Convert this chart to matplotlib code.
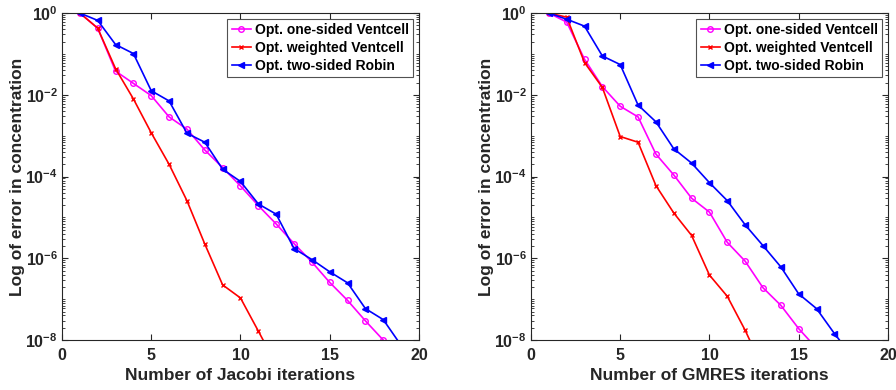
import numpy as np
import matplotlib
matplotlib.use('Agg')
import matplotlib.pyplot as plt
from matplotlib.ticker import LogLocator, NullFormatter, FixedLocator

plt.rcParams['font.family'] = ['Liberation Sans', 'DejaVu Sans']
plt.rcParams['font.weight'] = 'bold'

# log10 of error
jac_iters_one = np.arange(1, 19)
jac_one = [0, -0.37, -1.42, -1.72, -2.02, -2.54, -2.84, -3.35, -3.78, -4.23,
           -4.71, -5.16, -5.64, -6.09, -6.59, -7.03, -7.53, -8.0]
jac_iters_w = np.arange(1, 13)
jac_w = [0, -0.37, -1.36, -2.10, -2.93, -3.70, -4.59, -5.65, -6.65, -6.97,
         -7.78, -8.6]
jac_iters_rob = np.arange(1, 20)
jac_rob = [0, -0.18, -0.77, -0.99, -1.90, -2.15, -2.94, -3.16, -3.82, -4.12,
           -4.67, -4.92, -5.76, -6.03, -6.33, -6.60, -7.23, -7.50, -8.13]

gm_iters_one = np.arange(1, 17)
gm_one = [0, -0.22, -1.13, -1.80, -2.28, -2.54, -3.45, -3.96, -4.53, -4.87,
          -5.61, -6.07, -6.72, -7.15, -7.72, -8.2]
gm_iters_w = np.arange(1, 14)
gm_w = [0, -0.10, -1.21, -1.82, -3.02, -3.16, -4.22, -4.89, -5.44, -6.41,
        -6.93, -7.76, -8.7]
gm_iters_rob = np.arange(1, 19)
gm_rob = [0, -0.15, -0.32, -1.05, -1.26, -2.25, -2.66, -3.32, -3.67, -4.15,
          -4.59, -5.18, -5.69, -6.21, -6.87, -7.23, -7.84, -8.4]

labels = ['Opt. one-sided Ventcell', 'Opt. weighted Ventcell', 'Opt. two-sided Robin']

fig = plt.figure(figsize=(8.96, 3.9), dpi=100)
ax1 = fig.add_axes([0.0692, 0.128, 0.3984, 0.8385])
ax2 = fig.add_axes([0.5926, 0.128, 0.3984, 0.8385])


def draw(ax, data, xlabel):
    (x1, y1), (x2, y2), (x3, y3) = data
    ax.semilogy(x1, 10.0 ** np.array(y1), '-o', color='#FF00FF', lw=1.2,
                ms=4, mfc='none', mew=1.0, label=labels[0])
    ax.semilogy(x2, 10.0 ** np.array(y2), '-x', color='#FF0000', lw=1.2,
                ms=3, mew=1.0, label=labels[1])
    ax.semilogy(x3, 10.0 ** np.array(y3), '-<', color='#0000FF', lw=1.2,
                ms=4.5, label=labels[2])
    ax.set_xlim(0, 20)
    ax.set_ylim(1e-8, 1)
    ax.set_xticks([0, 5, 10, 15, 20])
    ax.yaxis.set_major_locator(FixedLocator([1e-8, 1e-6, 1e-4, 1e-2, 1]))
    ax.yaxis.set_minor_locator(LogLocator(base=10, subs=np.arange(1, 10), numticks=20))
    ax.yaxis.set_minor_formatter(NullFormatter())
    ax.tick_params(direction='in', top=True, right=True, which='both',
                   labelsize=11.5, color='#262626')
    ax.tick_params(which='major', length=4)
    ax.tick_params(which='minor', length=2)
    ax.tick_params(axis='x', pad=6)
    ax.tick_params(axis='y', pad=3)
    for lab in ax.get_xticklabels() + ax.get_yticklabels():
        lab.set_fontweight('bold')
        lab.set_color('#262626')
    for s in ax.spines.values():
        s.set_color('#262626')
        s.set_linewidth(0.8)
    ax.set_xlabel(xlabel, fontsize=12.5, fontweight='bold', color='#262626',
                  labelpad=3)
    ax.set_ylabel('Log of error in concentration', fontsize=12.5,
                  fontweight='bold', color='#262626', labelpad=0)
    leg = ax.legend(loc='upper right', fontsize=10, frameon=True,
                    fancybox=False, edgecolor='#262626', borderpad=0.3,
                    labelspacing=0.3, handlelength=1.4, handletextpad=0.3,
                    borderaxespad=0.4)
    leg.get_frame().set_linewidth(0.8)
    for t in leg.get_texts():
        t.set_fontweight('bold')


draw(ax1, [(jac_iters_one, jac_one), (jac_iters_w, jac_w), (jac_iters_rob, jac_rob)],
     'Number of Jacobi iterations')
draw(ax2, [(gm_iters_one, gm_one), (gm_iters_w, gm_w), (gm_iters_rob, gm_rob)],
     'Number of GMRES iterations')

fig.savefig('out.png', dpi=100, facecolor='white')
